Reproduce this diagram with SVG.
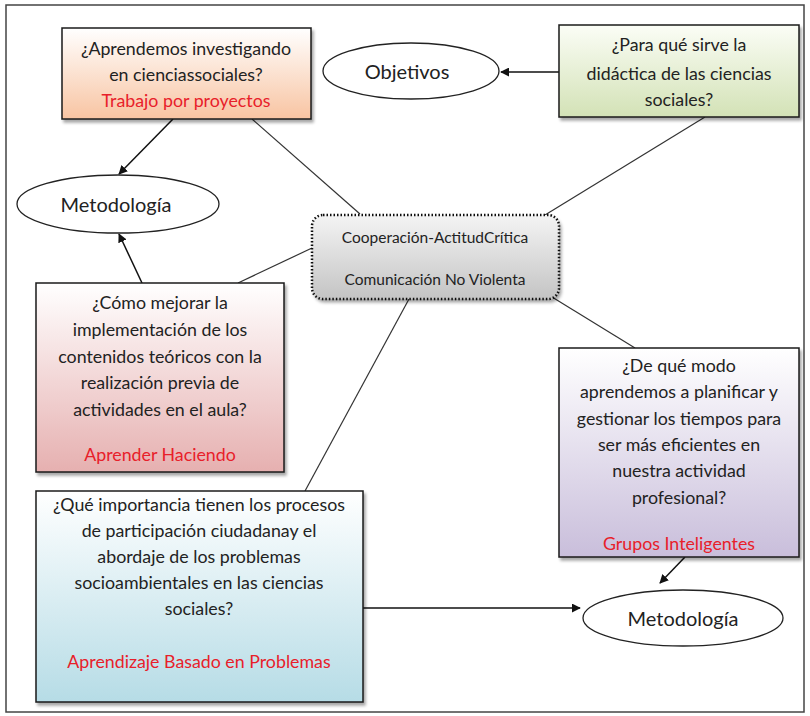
<svg xmlns="http://www.w3.org/2000/svg" width="810" height="716" viewBox="0 0 810 716">
<style>
.box{stroke:#1a1a1a;stroke-width:1.5}
.ell{fill:#fff;stroke:#222;stroke-width:1.3}
.t{font-family:Lato,"Open Sans","Liberation Sans",sans-serif;font-size:17.8px;fill:#222;text-anchor:middle}
.r{fill:#e8202a}
.c{font-size:15.5px}
.e{font-size:20px}
.ln{stroke:#333;stroke-width:1.2;fill:none}
.ar{stroke:#111;stroke-width:1.5;fill:none;marker-end:url(#ah)}
</style>
<defs>
<marker id="ah" viewBox="0 0 10 10" refX="9" refY="5" markerWidth="9" markerHeight="9" markerUnits="userSpaceOnUse" orient="auto"><path d="M0,0 L10,5 L0,10 z" fill="#111"/></marker>
<linearGradient id="gO" x1="0" y1="0" x2="0" y2="1"><stop offset="0" stop-color="#fff"/><stop offset="1" stop-color="#f8c4a2"/></linearGradient>
<linearGradient id="gG" x1="0" y1="0" x2="0" y2="1"><stop offset="0" stop-color="#fbfdf6"/><stop offset="1" stop-color="#d3e2b6"/></linearGradient>
<linearGradient id="gP" x1="0" y1="0" x2="0" y2="1"><stop offset="0" stop-color="#fff"/><stop offset="1" stop-color="#e6b0b0"/></linearGradient>
<linearGradient id="gB" x1="0" y1="0" x2="0" y2="1"><stop offset="0" stop-color="#fff"/><stop offset="1" stop-color="#b6dce6"/></linearGradient>
<linearGradient id="gV" x1="0" y1="0" x2="0" y2="1"><stop offset="0" stop-color="#fff"/><stop offset="1" stop-color="#c9bedb"/></linearGradient>
<linearGradient id="gC" x1="0" y1="0" x2="0" y2="1"><stop offset="0" stop-color="#f4f4f4"/><stop offset="1" stop-color="#c4c4c4"/></linearGradient>
<filter id="sh" x="-5%" y="-5%" width="115%" height="120%"><feDropShadow dx="2" dy="3" stdDeviation="1.5" flood-color="#000" flood-opacity="0.35"/></filter>
</defs>
<rect x="0" y="0" width="810" height="716" fill="#fff"/>
<rect x="6" y="5" width="798" height="707" fill="none" stroke="#444" stroke-width="1.5"/>

<g id="connectors">
<line class="ln" x1="252" y1="119" x2="360" y2="214"/>
<line class="ln" x1="705" y1="117" x2="545" y2="215"/>
<line class="ln" x1="238" y1="283" x2="312" y2="248"/>
<line class="ln" x1="305" y1="491" x2="409" y2="299"/>
<line class="ln" x1="552" y1="297" x2="635" y2="348"/>
<line class="ar" x1="173" y1="119" x2="119" y2="174"/>
<line class="ar" x1="559" y1="72" x2="501" y2="72"/>
<line class="ar" x1="142" y1="283" x2="119" y2="234"/>
<line class="ar" x1="363" y1="608" x2="580" y2="608"/>
<line class="ar" x1="685" y1="557" x2="660" y2="583"/>
</g>

<g id="n-aprendemos">
<rect class="box" x="62" y="28" width="249" height="91" fill="url(#gO)" filter="url(#sh)"/>
<text class="t" x="186" y="55">¿Aprendemos  investigando</text>
<text class="t" x="186" y="81">en cienciassociales?</text>
<text class="t r" x="186" y="107">Trabajo por proyectos</text>
</g>

<g id="n-objetivos">
<ellipse class="ell" cx="411" cy="71" rx="88" ry="28"/>
<text class="t e" x="407" y="79">Objetivos</text>
</g>

<g id="n-para">
<rect class="box" x="559" y="25" width="240" height="92" fill="url(#gG)" filter="url(#sh)"/>
<text class="t" x="679" y="51">¿Para qué sirve la</text>
<text class="t" x="679" y="80">didáctica de las ciencias</text>
<text class="t" x="679" y="106">sociales?</text>
</g>

<g id="n-metodologia1">
<ellipse class="ell" cx="118" cy="204" rx="101" ry="29"/>
<text class="t e" x="116" y="212">Metodología</text>
</g>

<g id="n-central">
<rect x="312" y="215" width="247" height="84" rx="11" fill="url(#gC)" stroke="#111" stroke-width="2.5" stroke-dasharray="1.5,2" filter="url(#sh)"/>
<text class="t c" x="435" y="243">Cooperación-ActitudCrítica</text>
<text class="t c" x="435" y="285">Comunicación No Violenta</text>
</g>

<g id="n-como">
<rect class="box" x="36" y="283" width="248" height="189" fill="url(#gP)" filter="url(#sh)"/>
<text class="t" x="160" y="309">¿Cómo  mejorar la</text>
<text class="t" x="160" y="336">implementación de  los</text>
<text class="t" x="160" y="363">contenidos teóricos con la</text>
<text class="t" x="160" y="389">realización previa de</text>
<text class="t" x="160" y="416">actividades en el aula?</text>
<text class="t r" x="160" y="461">Aprender  Haciendo</text>
</g>

<g id="n-que">
<rect class="box" x="36" y="491" width="327" height="211" fill="url(#gB)" filter="url(#sh)"/>
<text class="t" x="199" y="511">¿Qué  importancia tienen los procesos</text>
<text class="t" x="199" y="537">de  participación ciudadanay el</text>
<text class="t" x="199" y="563">abordaje de los problemas</text>
<text class="t" x="199" y="589">socioambientales en las ciencias</text>
<text class="t" x="199" y="615">sociales?</text>
<text class="t r" x="199" y="668">Aprendizaje Basado en Problemas</text>
</g>

<g id="n-demodo">
<rect class="box" x="559" y="348" width="240" height="209" fill="url(#gV)" filter="url(#sh)"/>
<text class="t" x="679" y="372">¿De  qué  modo</text>
<text class="t" x="679" y="398">aprendemos a planificar y</text>
<text class="t" x="679" y="425">gestionar los tiempos para</text>
<text class="t" x="679" y="451">ser más eficientes en</text>
<text class="t" x="679" y="477">nuestra actividad</text>
<text class="t" x="679" y="504">profesional?</text>
<text class="t r" x="679" y="550">Grupos Inteligentes</text>
</g>

<g id="n-metodologia2">
<ellipse class="ell" cx="683" cy="618" rx="100" ry="28"/>
<text class="t e" x="683" y="626">Metodología</text>
</g>
</svg>
